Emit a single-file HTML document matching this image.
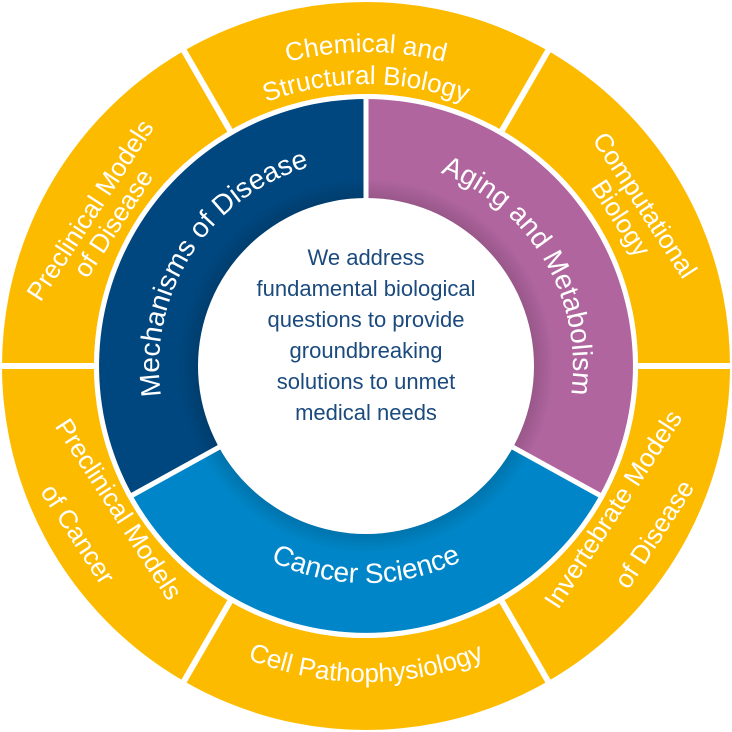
<!DOCTYPE html>
<html><head><meta charset="utf-8"><style>
html,body{margin:0;padding:0;background:#fff;}
svg{display:block;}
text{font-family:"Liberation Sans",sans-serif;fill:#fff;}
</style></head><body>
<svg width="732" height="732" viewBox="0 0 732 732">
<defs>
<path id="pChem" d="M209,94.1 A314,314 0 0 1 523,94.1"/>
<path id="pStruct" d="M225,121.8 A282,282 0 0 1 507,121.8"/>
<path id="pCell" d="M208,639.7 A316,316 0 0 0 524,639.7"/>
<path id="pMech" d="M185,466.4 A207,207 0 0 1 366,159"/>
<path id="pAging" d="M366,159 A207,207 0 0 1 547,466.4"/>
<path id="pCancer" d="M176.2,471.2 A217,217 0 0 0 555.8,471.2"/>
<radialGradient id="sh" cx="366" cy="366" r="268" gradientUnits="userSpaceOnUse">
<stop offset="0.62" stop-color="#000" stop-opacity="0.15"/>
<stop offset="0.7" stop-color="#000" stop-opacity="0"/>
</radialGradient>
</defs>
<circle cx="366" cy="366" r="364" fill="#FDBB00"/>
<circle cx="366" cy="366" r="272" fill="#fff"/>
<g stroke="#fff" stroke-width="6">
<line x1="366" y1="366" x2="736" y2="366"/>
<line x1="366" y1="366" x2="551" y2="686.4"/>
<line x1="366" y1="366" x2="181" y2="686.4"/>
<line x1="366" y1="366" x2="-4" y2="366"/>
<line x1="366" y1="366" x2="181" y2="45.6"/>
<line x1="366" y1="366" x2="551" y2="45.6"/>
</g>
<circle cx="366" cy="366" r="272" fill="#fff"/>
<path d="M366,366 L599.5,495.4 A267,267 0 0 1 132.5,495.4 Z" fill="#0086C8"/>
<path d="M366,366 L132.5,495.4 A267,267 0 0 1 366,99 Z" fill="#00477F"/>
<path d="M366,366 L366,99 A267,267 0 0 1 599.5,495.4 Z" fill="#B0659F"/>
<circle cx="366" cy="366" r="267" fill="url(#sh)"/>
<g stroke="#fff" stroke-width="5">
<line x1="366" y1="366" x2="366" y2="95"/>
<line x1="366" y1="366" x2="129" y2="497"/>
<line x1="366" y1="366" x2="603" y2="497"/>
</g>
<circle cx="366" cy="366" r="168" fill="#fff"/>

<g font-size="26">
<text text-anchor="middle"><textPath href="#pChem" startOffset="50%">Chemical and</textPath></text>
<text text-anchor="middle"><textPath href="#pStruct" startOffset="50%">Structural Biology</textPath></text>
<text text-anchor="middle"><textPath href="#pCell" startOffset="50%">Cell Pathophysiology</textPath></text>
<text text-anchor="middle" dominant-baseline="central" transform="translate(90,210) rotate(-57)">Preclinical Models</text>
<text text-anchor="middle" dominant-baseline="central" transform="translate(113,223) rotate(-57)">of Disease</text>
<text text-anchor="middle" dominant-baseline="central" transform="translate(645,205) rotate(57)">Computational</text>
<text text-anchor="middle" dominant-baseline="central" transform="translate(621,218) rotate(57)">Biology</text>
<text text-anchor="middle" dominant-baseline="central" transform="translate(613,509) rotate(-57)">Invertebrate Models</text>
<text text-anchor="middle" dominant-baseline="central" transform="translate(654,534) rotate(-57)">of Disease</text>
<text text-anchor="middle" dominant-baseline="central" transform="translate(119,509) rotate(57)">Preclinical Models</text>
<text text-anchor="middle" dominant-baseline="central" transform="translate(78,534) rotate(57)">of Cancer</text>
</g>
<g font-size="28">
<text text-anchor="middle"><textPath href="#pMech" startOffset="52%">Mechanisms of Disease</textPath></text>
<text text-anchor="middle"><textPath href="#pAging" startOffset="50%">Aging and Metabolism</textPath></text>
<text text-anchor="middle"><textPath href="#pCancer" startOffset="50%">Cancer Science</textPath></text>
</g>
<g font-size="22" text-anchor="middle">
<text x="366" y="265" style="fill:#1B4A7E">We address</text>
<text x="366" y="296" style="fill:#1B4A7E">fundamental biological</text>
<text x="366" y="327" style="fill:#1B4A7E">questions to provide</text>
<text x="366" y="358" style="fill:#1B4A7E">groundbreaking</text>
<text x="366" y="389" style="fill:#1B4A7E">solutions to unmet</text>
<text x="366" y="420" style="fill:#1B4A7E">medical needs</text>
</g>
</svg>
</body></html>
